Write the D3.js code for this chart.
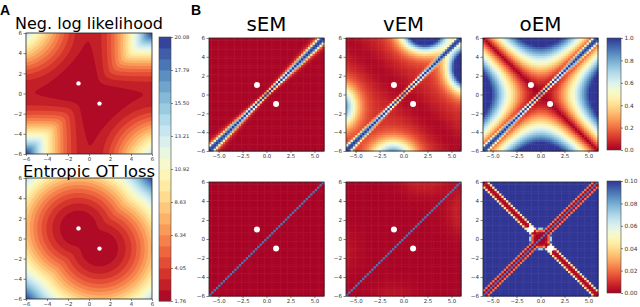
<!DOCTYPE html>
<html>
<head>
<meta charset="utf-8">
<script src="https://cdn.jsdelivr.net/npm/d3@7"></script>
<style>
  body { margin: 0; background: #fff; }
  svg { display: block; font-family: "DejaVu Sans", sans-serif; }
</style>
</head>
<body>
<svg id="fig" width="640" height="307"></svg>
<script>
// ---- data ----
const trueMeans = [-1, 1];            // mixture component means (white dots)
const sigma = 1;
const truePoints = [[-1, 1], [1, -1]];
const levelTicks = [1.76, 4.05, 6.34, 8.63, 10.92, 13.21, 15.50, 17.79, 20.08];
const otEps = 1.0;                    // entropic regularisation
const otScale = 0.247;
const ticksA = [-6, -4, -2, 0, 2, 4, 6];
const xTicksB = [-5, -2.5, 0, 2.5, 5];
const yTicksB = [-6, -4, -2, 0, 2, 4, 6];
const methods = ['sEM', 'vEM', 'oEM'];
const titleWidths = [40, 41, 42];
const cbTicksTop = [0, 0.2, 0.4, 0.6, 0.8, 1.0];
const cbTicksBottom = [0, 0.02, 0.04, 0.06, 0.08, 0.10];
// vEM non-convergence regions: [cx, cy, sx, sy, strength]
const vemBlobs = [
  [6.9, 2.8, 2.0, 2.2, 1.8],
  [2.2, 6.9, 2.2, 2.0, 1.8],
  [-7.0, -1.3, 2.0, 2.2, 0.95],
  [-1.1, -7.0, 2.2, 2.0, 0.95]
];
const oemScale = [18.5, 0.295];       // saturation of |t1^2 - t2^2| in oEM

const svg = d3.select('#fig');
const cmap = d3.interpolateRdYlBu;
const fmtInt = d3.format('d');

// contour levels: three bands per labelled interval
const levels = levelTicks.flatMap((t, i) => {
  if (i === levelTicks.length - 1) return [t];
  const d = levelTicks[i + 1] - t;
  return [t, t + d / 3, t + 2 * d / 3];
});
const nBands = levels.length - 1;
const bandColor = k => cmap((k + 0.5) / nBands);

// ---- panel A fields ----
const phi = z => Math.exp(-0.5 * z * z / (sigma * sigma)) / (sigma * Math.sqrt(2 * Math.PI));
const xq = d3.range(-9, 9.0001, 0.05);
let wq = xq.map(x => 0.5 * phi(x - trueMeans[0]) + 0.5 * phi(x - trueMeans[1]));
const wsum = d3.sum(wq);
wq = wq.map(w => w / wsum);

const negLogLik = (t1, t2) => {
  let s = 0;
  for (let k = 0; k < xq.length; k++) {
    const a = -0.5 * (xq[k] - t1) ** 2, b = -0.5 * (xq[k] - t2) ** 2;
    const m = Math.max(a, b);
    const lse = m + Math.log(Math.exp(a - m) + Math.exp(b - m));
    s -= wq[k] * (Math.log(0.5) - 0.5 * Math.log(2 * Math.PI) + lse);
  }
  return s;
};
const softMinCost = (t1, t2) => {
  const m1 = (t1 - truePoints[0][0]) ** 2 + (t2 - truePoints[0][1]) ** 2;
  const m2 = (t1 - truePoints[1][0]) ** 2 + (t2 - truePoints[1][1]) ** 2;
  const m = Math.min(m1, m2);
  return m - otEps * Math.log(0.5 * Math.exp(-(m1 - m) / otEps) + 0.5 * Math.exp(-(m2 - m) / otEps));
};
const otBase = softMinCost(truePoints[0][0], truePoints[0][1]);
const otLoss = (t1, t2) => levelTicks[0] + otScale * (softMinCost(t1, t2) - otBase);

const nA = 120;
const gridField = (f, n) => {
  const vals = new Array(n * n);
  for (let j = 0; j < n; j++) {
    const t2 = 6 - (j + 0.5) * 12 / n;
    for (let i = 0; i < n; i++) {
      const t1 = -6 + (i + 0.5) * 12 / n;
      vals[j * n + i] = f(t1, t2);
    }
  }
  return vals;
};

const frame = (g, x, y) => {
  g.append('rect')
    .attr('x', x.range()[0]).attr('y', y.range()[1])
    .attr('width', x.range()[1] - x.range()[0])
    .attr('height', y.range()[0] - y.range()[1])
    .attr('fill', 'none').attr('stroke', '#222').attr('stroke-width', 0.8);
};

const styleAxis = (sel, fs) => {
  sel.select('.domain').remove();
  sel.selectAll('.tick line').attr('stroke', '#333').attr('stroke-width', 0.6);
  sel.selectAll('.tick text').attr('fill', '#333').style('font-size', fs + 'px')
    .style('font-family', '"DejaVu Sans", sans-serif');
};

const drawAxes = (g, x, y, xt, yt, xf, yf) => {
  g.append('g').attr('transform', `translate(0,${y.range()[0]})`)
    .call(d3.axisBottom(x).tickValues(xt).tickFormat(xf).tickSize(2).tickPadding(1))
    .call(s => styleAxis(s, 5.4));
  g.append('g').attr('transform', `translate(${x.range()[0]},0)`)
    .call(d3.axisLeft(y).tickValues(yt).tickFormat(yf).tickSize(2.5).tickPadding(1.5))
    .call(s => styleAxis(s, 5.6));
};

const drawDots = (g, x, y, r) => {
  g.selectAll('circle.truth').data(truePoints).join('circle')
    .attr('class', 'truth')
    .attr('cx', d => x(d[0])).attr('cy', d => y(d[1]))
    .attr('r', r).attr('fill', '#fff');
};

const contourPanel = (f, x, y) => {
  const g = svg.append('g');
  const vals = gridField(f, nA);
  const proj = d3.geoTransform({
    point(px, py) { this.stream.point(x(-6 + px * 12 / nA), y(6 - py * 12 / nA)); }
  });
  const path = d3.geoPath(proj);
  g.append('rect')
    .attr('x', x.range()[0]).attr('y', y.range()[1])
    .attr('width', x.range()[1] - x.range()[0])
    .attr('height', y.range()[0] - y.range()[1])
    .attr('fill', bandColor(0));
  const contours = d3.contours().size([nA, nA]).thresholds(levels.slice(1, -1))(vals);
  g.selectAll('path.band').data(contours).join('path')
    .attr('class', 'band')
    .attr('d', path)
    .attr('fill', (d, i) => bandColor(i + 1));
  drawDots(g, x, y, 2.2);
  frame(g, x, y);
  drawAxes(g, x, y, ticksA, ticksA, fmtInt, fmtInt);
  return g;
};

const xA = d3.scaleLinear().domain([-6, 6]).range([26, 152]);
const yA1 = d3.scaleLinear().domain([-6, 6]).range([154, 33]);
const yA2 = d3.scaleLinear().domain([-6, 6]).range([299, 178]);
contourPanel(negLogLik, xA, yA1);
contourPanel(otLoss, xA, yA2);

// colorbar A
const cbA = d3.scaleLinear().domain([levels[0], levels[nBands]]).range([301, 37]);
const gcbA = svg.append('g');
gcbA.selectAll('rect').data(d3.range(nBands)).join('rect')
  .attr('x', 159).attr('width', 12)
  .attr('y', k => cbA(levels[k + 1]))
  .attr('height', k => cbA(levels[k]) - cbA(levels[k + 1]) + 0.4)
  .attr('fill', k => bandColor(k));
gcbA.append('rect').attr('x', 159).attr('y', 37).attr('width', 12).attr('height', 264)
  .attr('fill', 'none').attr('stroke', '#444').attr('stroke-width', 0.6);
gcbA.append('g').attr('transform', 'translate(171,0)')
  .call(d3.axisRight(cbA).tickValues(levelTicks).tickFormat(d3.format('.2f')).tickSize(2).tickPadding(1.5))
  .call(s => styleAxis(s, 5.2));

// ---- panel B fields ----
const diagBand = (t1, t2) => {
  const v = Math.abs(t1 - t2), u = Math.abs(t1 + t2);
  if (v < 1e-9) return 1;
  const w = 0.18 + 0.03 * u;
  return Math.exp(-((v / w) ** 2)) + 0.12 * Math.exp(-((v / (0.4 + 0.07 * u)) ** 2));
};
const vemRegions = (t1, t2) => d3.sum(vemBlobs, ([cx, cy, sx, sy, a]) =>
  a * Math.exp(-(((t1 - cx) / sx) ** 2 + ((t2 - cy) / sy) ** 2)));
const vemBase = (t1, t2) => 0.02 + 0.07 * (1 - Math.exp(-(((t1 + t2) / 2.5) ** 2)));
const oemTop = (t1, t2) =>
  Math.abs(t1 * t1 - t2 * t2) / (oemScale[0] + oemScale[1] * (t1 * t1 + t2 * t2));

const oemBottom = (t1, t2) => {
  const da = Math.abs(t1 + t2) / Math.SQRT2, dd = Math.abs(t1 - t2) / Math.SQRT2;
  if (dd < 1e-9) return 0.09;
  const armA = Math.min(1, (da / 0.45) ** 3);
  const armD = Math.min(1, (Math.max(0, dd - 0.1) / 0.4) ** 3);
  const core = Math.min(1, (Math.hypot(t1, t2) / 1.15) ** 6);
  let val = Math.min(armA, armD, core);
  truePoints.forEach(([px, py]) => {
    const dp = Math.hypot(t1 - px, t2 - py);
    if (dp < 0.4) val = Math.max(val, 0.55);
  });
  return 0.1 * val;
};

const fieldsB = {
  sEM: [
    (a, b) => Math.max(0.012, diagBand(a, b)),
    (a, b) => (a === b ? 0.09 : 0.0008)
  ],
  vEM: [
    (a, b) => Math.min(1, Math.max(diagBand(a, b), vemBase(a, b) + vemRegions(a, b))),
    (a, b) => (a === b ? 0.09 : 0.001 + 0.005 * Math.min(1, vemRegions(a, b)))
  ],
  oEM: [
    (a, b) => Math.min(1, Math.max(diagBand(a, b), oemTop(a, b))),
    oemBottom
  ]
};

const nB = 50;
const cellIdx = d3.range(nB);
const cellCenter = i => -6 + (i + 0.5) * 12 / nB;
const cells = cellIdx.flatMap(j => cellIdx.map(i => [cellCenter(i), cellCenter(nB - 1 - j)]));

const colsB = [[209, 324], [346, 461], [483, 598]];
const rowsB = [[151, 38], [296, 182]];
const colorTop = d3.scaleSequential(cmap).domain([0, 1]).clamp(true);
const colorBottom = d3.scaleSequential(cmap).domain([0, 0.1]).clamp(true);

const fitText = (sel, target) => {
  const fs = parseFloat(sel.style('font-size'));
  const w = sel.node().getComputedTextLength();
  if (w > 0) sel.style('font-size', (fs * target / w).toFixed(2) + 'px');
};

methods.forEach((m, c) => {
  const x = d3.scaleLinear().domain([-6, 6]).range(colsB[c]);
  rowsB.forEach((rr, r) => {
    const y = d3.scaleLinear().domain([-6, 6]).range(rr);
    const color = r === 0 ? colorTop : colorBottom;
    const f = fieldsB[m][r];
    const g = svg.append('g');
    const cw = (x(6) - x(-6)) / nB, ch = (y(-6) - y(6)) / nB;
    g.selectAll('rect').data(cells).join('rect')
      .attr('x', d => x(d[0]) - cw / 2)
      .attr('y', d => y(d[1]) - ch / 2)
      .attr('width', cw + 0.5).attr('height', ch + 0.5)
      .attr('fill', d => color(f(d[0], d[1])));
    drawDots(g, x, y, 3);
    frame(g, x, y);
    drawAxes(g, x, y, xTicksB, yTicksB, d3.format('.1f'), fmtInt);
  });
  svg.append('text').attr('class', 'title')
    .attr('x', (colsB[c][0] + colsB[c][1]) / 2).attr('y', 31)
    .attr('text-anchor', 'middle').style('font-size', '19px').attr('fill', '#000')
    .text(m)
    .call(s => fitText(s, titleWidths[c]));
});

// colorbars B
const defs = svg.append('defs');
const grad = defs.append('linearGradient').attr('id', 'rdylbu')
  .attr('x1', 0).attr('y1', 1).attr('x2', 0).attr('y2', 0);
grad.selectAll('stop').data(d3.range(0, 1.0001, 0.05)).join('stop')
  .attr('offset', d => d).attr('stop-color', d => cmap(d));

const cbB = [[cbTicksTop, [150, 38], d3.format('.1f')], [cbTicksBottom, [293, 181], d3.format('.2f')]];
cbB.forEach(([ticks, range, fmt]) => {
  const s = d3.scaleLinear().domain([ticks[0], ticks[ticks.length - 1]]).range(range);
  const g = svg.append('g');
  g.append('rect').attr('x', 607).attr('y', range[1]).attr('width', 14)
    .attr('height', range[0] - range[1]).attr('fill', 'url(#rdylbu)')
    .attr('stroke', '#444').attr('stroke-width', 0.6);
  g.append('g').attr('transform', 'translate(621,0)')
    .call(d3.axisRight(s).tickValues(ticks).tickFormat(fmt).tickSize(2).tickPadding(1.5))
    .call(sel => styleAxis(sel, 5.8));
});

// titles and panel letters
svg.append('text').attr('x', 15).attr('y', 28.5).style('font-size', '16px').attr('fill', '#000')
  .text('Neg. log likelihood')
  .call(s => fitText(s, 148));
svg.append('text').attr('x', 23).attr('y', 177).style('font-size', '16.5px').attr('fill', '#000')
  .text('Entropic OT loss')
  .call(s => fitText(s, 132));
svg.append('text').attr('x', 0).attr('y', 15).style('font-family', '"Liberation Sans", Arial, sans-serif')
  .style('font-weight', 'bold').style('font-size', '14px').text('A');
svg.append('text').attr('x', 191).attr('y', 15).style('font-family', '"Liberation Sans", Arial, sans-serif')
  .style('font-weight', 'bold').style('font-size', '14px').text('B');
</script>
</body>
</html>
